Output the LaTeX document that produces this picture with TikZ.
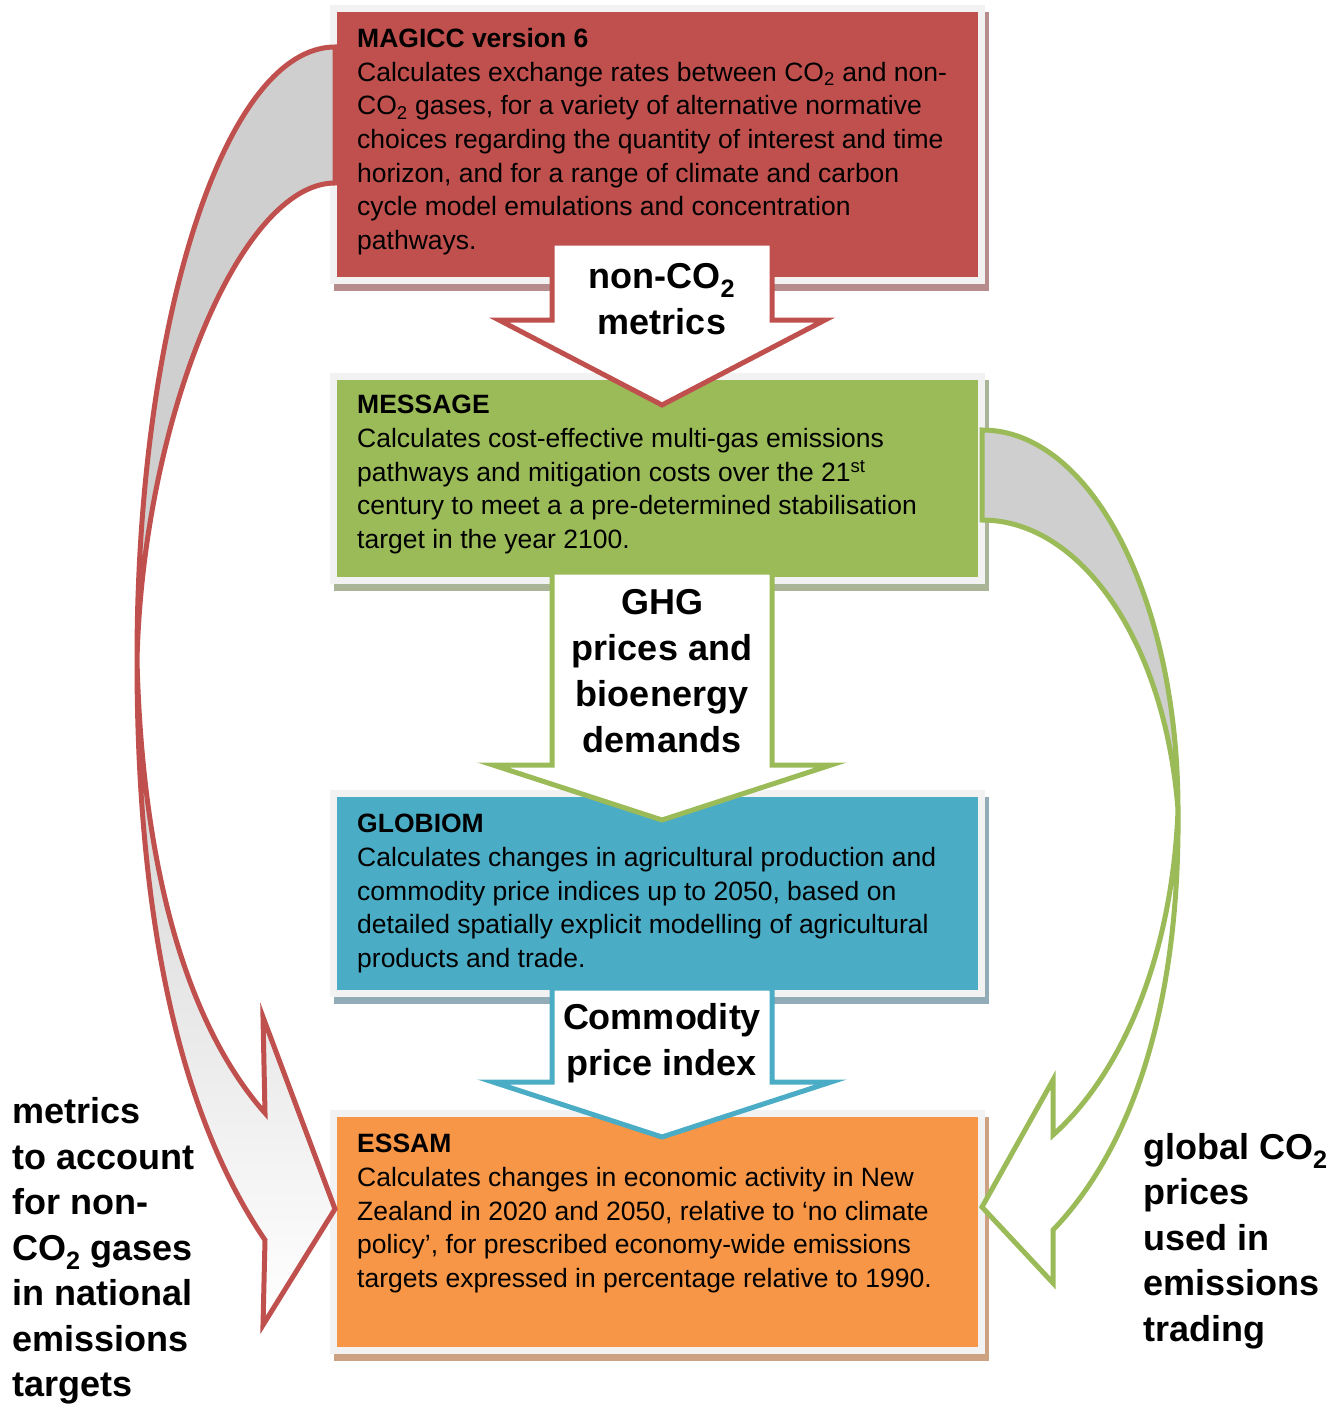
\documentclass[tikz,border=0pt]{standalone}
\usepackage{fontspec}
\setmainfont{Liberation Sans}
\usetikzlibrary{positioning,calc}

\definecolor{magiccred}{HTML}{C0504D}
\definecolor{messagegreen}{HTML}{9BBB59}
\definecolor{globiomblue}{HTML}{4BACC6}
\definecolor{essamorange}{HTML}{F79646}
\definecolor{framegray}{HTML}{F2F2F2}
\definecolor{backgray}{HTML}{CFCFCF}
\definecolor{redshadow}{RGB}{183,140,140}
\definecolor{greenshadow}{RGB}{170,180,150}
\definecolor{blueshadow}{RGB}{145,172,182}
\definecolor{orangeshadow}{RGB}{204,162,130}

\tikzset{
  modelbox/.style 2 args={fill=#1, minimum width=641, anchor=north west, inner sep=0pt, outer sep=0pt,
    preaction={fill=#2, draw=#2, line width=14, transform canvas={xshift=4pt, yshift=-7pt}},
    preaction={fill=framegray, draw=framegray, line width=14}},
  boxtext/.style={inner sep=0pt, align=left, font=\fontsize{26.5}{33.7}\selectfont},
  arrowlabel/.style={inner sep=0pt, align=center, font=\bfseries\fontsize{36}{46}\selectfont},
  sidelabel/.style={inner sep=0pt, align=left, anchor=west, font=\bfseries\fontsize{36}{45.5}\selectfont},
  flowarrow/.style={draw=#1, fill=white, line width=5},
  loopline/.style={draw=#1, line width=5}
}

% block arrow: colour, shaft top, tip, head depth, head half width
\newcommand{\blockarrow}[5]{%
  \draw[flowarrow=#1] ($(#2)+(-110,0)$) -- ($(#3)+(-110,-#4)$) -- ($(#3)+(-#5,-#4)$) -- (#3)
    -- ($(#3)+(#5,-#4)$) -- ($(#3)+(110,-#4)$) -- ($(#2)+(110,0)$) -- cycle;}

\begin{document}
\begin{tikzpicture}[x=1pt, y=-1pt]
\useasboundingbox (0,0) rectangle (1341,1405);

% model boxes
\node[modelbox={magiccred}{redshadow}, minimum height=265] (magicc) at (337,12) {};
\node[modelbox={messagegreen}{greenshadow}, minimum height=197] (message) at (337,380) {};
\node[modelbox={globiomblue}{blueshadow}, minimum height=193] (globiom) at (337,797) {};
\node[modelbox={essamorange}{orangeshadow}, minimum height=230] (essam) at (337,1117) {};

\node[boxtext, below right=16pt and 20pt of magicc.north west] (magicctext) {\textbf{MAGICC version 6}\\
  Calculates exchange rates between CO\textsubscript{2} and non-\\
  CO\textsubscript{2} gases, for a variety of alternative normative\\
  choices regarding the quantity of interest and time\\
  horizon, and for a range of climate and carbon\\
  cycle model emulations and concentration\\
  pathways.};
\node[boxtext, below right=15pt and 20pt of message.north west] (messagetext) {\textbf{MESSAGE}\\
  Calculates cost-effective multi-gas emissions\\
  pathways and mitigation costs over the 21\textsuperscript{st}\\
  century to meet a a pre-determined stabilisation\\
  target in the year 2100.};
\node[boxtext, below right=17pt and 20pt of globiom.north west] (globiomtext) {\textbf{GLOBIOM}\\
  Calculates changes in agricultural production and\\
  commodity price indices up to 2050, based on\\
  detailed spatially explicit modelling of agricultural\\
  products and trade.};
\node[boxtext, below right=17pt and 20pt of essam.north west] (essamtext) {\textbf{ESSAM}\\
  Calculates changes in economic activity in New\\
  Zealand in 2020 and 2050, relative to ‘no climate\\
  policy’, for prescribed economy-wide emissions\\
  targets expressed in percentage relative to 1990.};

% flow arrows between the models
\blockarrow{magiccred}{$(magicc.south)+(4.5,-34)$}{$(message.north)+(4.5,25)$}{85}{163}
\blockarrow{messagegreen}{$(message.south)+(4.5,-5)$}{$(globiom.north)+(4.5,23)$}{55}{169}
\blockarrow{globiomblue}{$(globiom.south)+(4.5,-2)$}{$(essam.north)+(4.5,20)$}{55}{169}

\node[arrowlabel] (metricslbl) at ($(magicc.south)+(4.5,22)$) {non-CO\textsubscript{2}\\metrics};
\node[arrowlabel] (priceslbl) at ($(message.south)+(4.5,94)$) {GHG\\prices and\\bioenergy\\demands};
\node[arrowlabel] (commoditylbl) at ($(globiom.south)+(4.5,53)$) {Commodity\\price index};

% curved arrow on the left
\coordinate (redtop) at ($(magicc.north west)+(-2,35)$);
\coordinate (redlow) at ($(magicc.north west)+(-2,171)$);
\coordinate (redmid) at (137,660);
\coordinate (redtip) at ($(essam.west)+(-2,-23)$);
\path[fill=backgray, loopline=magiccred] (redtop) .. controls (225,47) and (137,320) .. (redmid)
  .. controls (143,420) and (240,183) .. (redlow) -- cycle;
\path[top color=backgray, bottom color=white, loopline=magiccred] (redmid) .. controls (143,900) and (200,1040) .. (265,1113)
  -- (263,1017) -- (redtip) -- (263,1325) -- (265,1240) .. controls (190,1130) and (137,950) .. (redmid) -- cycle;

% curved arrow on the right
\coordinate (greentop) at ($(message.north east)+(4,50)$);
\coordinate (greenlow) at ($(message.north east)+(4,140)$);
\coordinate (greenmid) at (1178,810);
\coordinate (greentip) at ($(essam.north east)+(4,90)$);
\path[fill=backgray, loopline=messagegreen] (greentop) .. controls (1092,430) and (1178,600) .. (greenmid)
  .. controls (1165,640) and (1080,520) .. (greenlow) -- cycle;
\path[fill=white, loopline=messagegreen] (greenmid) .. controls (1172,960) and (1120,1075) .. (1053,1135)
  -- (1053,1080) -- (greentip) -- (1053,1283) -- (1053,1230) .. controls (1130,1150) and (1180,1010) .. (greenmid) -- cycle;

% side labels
\node[sidelabel] (nationallbl) at (12,1251) {metrics\\to account\\for non-\\CO\textsubscript{2} gases\\in national\\emissions\\targets};
\node[sidelabel] (tradinglbl) at (1143,1241) {global CO\textsubscript{2}\\prices\\used in\\emissions\\trading};

\end{tikzpicture}
\end{document}
